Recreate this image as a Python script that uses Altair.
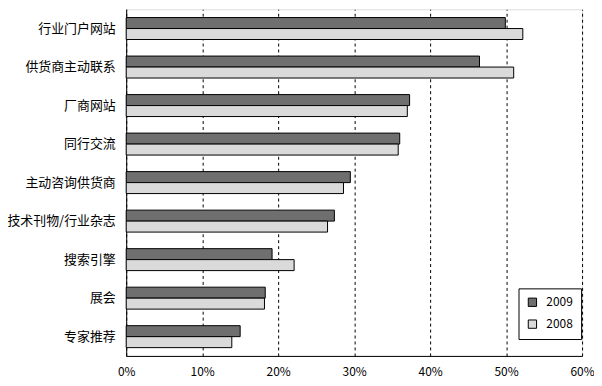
import altair as alt
import pandas as pd

categories = ["行业门户网站", "供货商主动联系", "厂商网站", "同行交流", "主动咨询供货商",
              "技术刊物/行业杂志", "搜索引擎", "展会", "专家推荐"]
v2009 = [49.9, 46.5, 37.3, 36.0, 29.5, 27.4, 19.2, 18.3, 15.0]
v2008 = [52.2, 51.0, 37.0, 35.8, 28.6, 26.5, 22.1, 18.2, 13.9]
series = ["2009", "2008"]
x_ticks = [0, 10, 20, 30, 40, 50, 60]

rows = []
for c, a, b in zip(categories, v2009, v2008):
    rows.append({"cat": c, "year": "2009", "v": a / 100})
    rows.append({"cat": c, "year": "2008", "v": b / 100})
df = pd.DataFrame(rows)

font = "Noto Sans CJK SC"

chart = alt.Chart(df).mark_bar(stroke="black", strokeWidth=1).encode(
    y=alt.Y("cat:N", sort=categories, title=None,
            scale=alt.Scale(paddingInner=0.43, paddingOuter=0.215),
            axis=alt.Axis(domain=True, domainColor="black", ticks=False, grid=False,
                          labelFont=font, labelFontSize=13, labelColor="black",
                          labelPadding=11)),
    yOffset=alt.YOffset("year:N", sort=series, scale=alt.Scale(domain=series)),
    x=alt.X("v:Q", title=None,
            scale=alt.Scale(domain=[0, 0.6], nice=False),
            axis=alt.Axis(values=[t / 100 for t in x_ticks], format=".0%",
                          domain=True, domainColor="black", ticks=False,
                          grid=True, gridColor="black", gridDash=[3, 3], gridOpacity=1,
                          labelFont=font, labelFontSize=12, labelColor="black",
                          labelFlush=False, labelPadding=11)),
    color=alt.Color("year:N", sort=series,
                    scale=alt.Scale(domain=series, range=["#6f6f6f", "#dadada"]),
                    legend=alt.Legend(title=None, orient="none", legendX=395, legendY=281,
                                      strokeColor="black", fillColor="white",
                                      padding=8, symbolType="square", symbolSize=70,
                                      symbolStrokeColor="black", symbolStrokeWidth=1,
                                      labelFont=font, labelFontSize=12, labelColor="black",
                                      rowPadding=8, labelOffset=8)),
).properties(
    width=459, height=349,
    padding={"left": 119, "top": 0, "right": 12, "bottom": 28},
    autosize=alt.AutoSizeParams(type="none"),
).configure_view(stroke=None).configure(background="white")

chart.save("out.html", embed_options={"renderer": "svg", "actions": False})
